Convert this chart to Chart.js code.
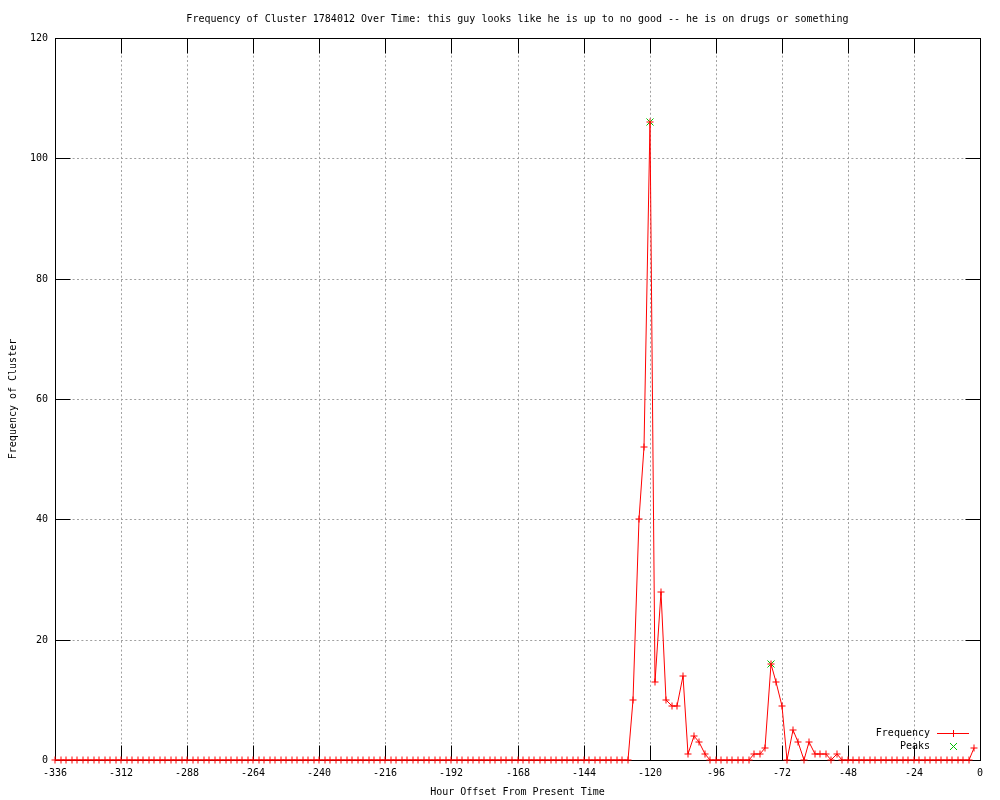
<!DOCTYPE html>
<html>
<head>
<meta charset="utf-8">
<title>Frequency of Cluster 1784012</title>
<script src="https://cdn.jsdelivr.net/npm/chart.js"></script>
<style>
    html, body { margin: 0; padding: 0; background: #fff; }
    #chart { display: block; }
</style>
</head>
<body>
<canvas id="chart" width="1000" height="800"></canvas>
<script>
// one value every 2 hours, from -336 h up to -2 h (one row = 24 h)
const firstHour = -336;
const hourStep = 2;
const frequency = [
    0, 0, 0, 0, 0, 0, 0, 0, 0, 0, 0, 0,        // -336
    0, 0, 0, 0, 0, 0, 0, 0, 0, 0, 0, 0,        // -312
    0, 0, 0, 0, 0, 0, 0, 0, 0, 0, 0, 0,        // -288
    0, 0, 0, 0, 0, 0, 0, 0, 0, 0, 0, 0,        // -264
    0, 0, 0, 0, 0, 0, 0, 0, 0, 0, 0, 0,        // -240
    0, 0, 0, 0, 0, 0, 0, 0, 0, 0, 0, 0,        // -216
    0, 0, 0, 0, 0, 0, 0, 0, 0, 0, 0, 0,        // -192
    0, 0, 0, 0, 0, 0, 0, 0, 0, 0, 0, 0,        // -168
    0, 0, 0, 0, 0, 0, 0, 0, 0, 10, 40, 52,     // -144
    106, 13, 28, 10, 9, 9, 14, 1, 4, 3, 1, 0,  // -120
    0, 0, 0, 0, 0, 0, 0, 1, 1, 2, 16, 13,      // -96
    9, 0, 5, 3, 0, 3, 1, 1, 1, 0, 1, 0,        // -72
    0, 0, 0, 0, 0, 0, 0, 0, 0, 0, 0, 0,        // -48
    0, 0, 0, 0, 0, 0, 0, 0, 0, 0, 0, 2         // -24
];
const hours = frequency.map((_, i) => firstHour + i * hourStep);

const peakHours = [-120, -76];
const peakValues = [106, 16];

const xTickValues = [-336, -312, -288, -264, -240, -216, -192, -168, -144, -120, -96, -72, -48, -24, 0];
const yTickValues = [0, 20, 40, 60, 80, 100, 120];

const FONT = { family: "'DejaVu Sans Mono', 'Liberation Mono', monospace", size: 10, lineHeight: 1.2 };
const GRID_COLOR = '#a0a0a0';
const LINE_RED = 'rgb(255, 0, 0)';
const PEAK_GREEN = 'rgb(0, 192, 0)';
const TICK_LEN = 15;

Chart.defaults.color = '#000';
Chart.defaults.font = FONT;

// same rounding as chart.js uses for 1px grid lines
const snap = (p) => Math.round(p - 0.5) + 0.5;

// gnuplot style frame: full box with inward ticks on all four sides
const framePlugin = {
    id: 'frame',
    beforeDatasetsDraw(chart) {
        const ctx = chart.ctx;
        const a = chart.chartArea;
        const xs = chart.scales.x, ys = chart.scales.y;
        const L = snap(a.left), R = snap(a.right), T = snap(a.top), B = snap(a.bottom);
        ctx.save();
        ctx.setLineDash([]);
        ctx.strokeStyle = '#000';
        ctx.lineWidth = 1;
        ctx.beginPath();
        xTickValues.forEach(v => {
            const px = snap(xs.getPixelForValue(v));
            ctx.moveTo(px, B); ctx.lineTo(px, B - TICK_LEN);
            ctx.moveTo(px, T); ctx.lineTo(px, T + TICK_LEN);
        });
        yTickValues.forEach(v => {
            const py = snap(ys.getPixelForValue(v));
            ctx.moveTo(L, py); ctx.lineTo(L + TICK_LEN, py);
            ctx.moveTo(R, py); ctx.lineTo(R - TICK_LEN, py);
        });
        ctx.stroke();
        ctx.strokeRect(L, T, R - L, B - T);
        ctx.restore();
    },
    afterDatasetsDraw(chart) {
        // key in the lower right corner, text right-aligned, sample on the right
        const ctx = chart.ctx;
        const a = chart.chartArea;
        const textRight = Math.round(a.right - 50);
        const sampleL = Math.round(a.right - 43), sampleR = Math.round(a.right - 11);
        const mid = Math.round((sampleL + sampleR) / 2) + 0.5;
        const rows = [Math.round(a.bottom - 27), Math.round(a.bottom - 14)];
        ctx.save();
        ctx.setLineDash([]);
        ctx.lineWidth = 1;

        ctx.strokeStyle = LINE_RED;
        ctx.beginPath();
        ctx.moveTo(sampleL, rows[0] + 0.5);
        ctx.lineTo(sampleR, rows[0] + 0.5);
        ctx.moveTo(mid, rows[0] - 3);
        ctx.lineTo(mid, rows[0] + 4);
        ctx.stroke();

        ctx.strokeStyle = PEAK_GREEN;
        ctx.beginPath();
        ctx.moveTo(mid - 3.5, rows[1] - 3);
        ctx.lineTo(mid + 3.5, rows[1] + 4);
        ctx.moveTo(mid - 3.5, rows[1] + 4);
        ctx.lineTo(mid + 3.5, rows[1] - 3);
        ctx.stroke();

        ctx.font = FONT.size + 'px ' + FONT.family;
        ctx.fillStyle = '#000';
        ctx.textAlign = 'right';
        ctx.textBaseline = 'middle';
        ctx.fillText('Frequency', textRight, rows[0]);
        ctx.fillText('Peaks', textRight, rows[1]);
        ctx.restore();
    }
};

const edgeHidden = (edges) => (c) => (c.tick && edges.includes(c.tick.value)) ? 'rgba(0,0,0,0)' : GRID_COLOR;

new Chart(document.getElementById('chart'), {
    type: 'line',
    data: {
        datasets: [{
            label: 'Frequency',
            data: hours.map((h, i) => ({ x: h, y: frequency[i] })),
            borderColor: LINE_RED,
            backgroundColor: LINE_RED,
            borderWidth: 1,
            pointStyle: 'cross',
            pointRadius: 3.5,
            pointBorderWidth: 1,
            pointHoverRadius: 3.5,
            tension: 0,
            clip: false
        }, {
            label: 'Peaks',
            data: peakHours.map((h, i) => ({ x: h, y: peakValues[i] })),
            showLine: false,
            borderColor: PEAK_GREEN,
            backgroundColor: PEAK_GREEN,
            pointStyle: 'crossRot',
            pointRadius: 5,
            pointBorderWidth: 1,
            clip: false
        }]
    },
    options: {
        responsive: false,
        animation: false,
        events: [],
        layout: { padding: { left: 0, right: 20, top: 0, bottom: 0 } },
        plugins: {
            legend: { display: false },
            tooltip: { enabled: false },
            title: {
                display: true,
                fullSize: false,
                text: 'Frequency of Cluster 1784012 Over Time: this guy looks like he is up to no good -- he is on drugs or something',
                color: '#000',
                font: { ...FONT, weight: 'normal' },
                padding: { top: 13, bottom: 13 }
            }
        },
        scales: {
            x: {
                type: 'linear',
                min: -336,
                max: 0,
                alignToPixels: true,
                afterBuildTicks: (s) => { s.ticks = xTickValues.map(v => ({ value: v })); },
                afterFit: (s) => { s.height = 40; },
                ticks: { padding: 7, maxRotation: 0, autoSkip: false, font: FONT },
                grid: { color: edgeHidden([-336, 0]), lineWidth: 1, drawTicks: false },
                border: { display: false, dash: [2, 2.4] },
                title: {
                    display: true,
                    text: 'Hour Offset From Present Time',
                    font: FONT,
                    padding: { top: 0, bottom: 2 }
                }
            },
            y: {
                min: 0,
                max: 120,
                alignToPixels: true,
                afterBuildTicks: (s) => { s.ticks = yTickValues.map(v => ({ value: v })); },
                afterFit: (s) => { s.width = 55; },
                ticks: { padding: 7, font: FONT },
                grid: { color: edgeHidden([0, 120]), lineWidth: 1, drawTicks: false },
                border: { display: false, dash: [2, 2.4] },
                title: {
                    display: true,
                    text: 'Frequency of Cluster',
                    font: FONT,
                    padding: { top: 7, bottom: 0 }
                }
            }
        }
    },
    plugins: [framePlugin]
});
</script>
</body>
</html>
